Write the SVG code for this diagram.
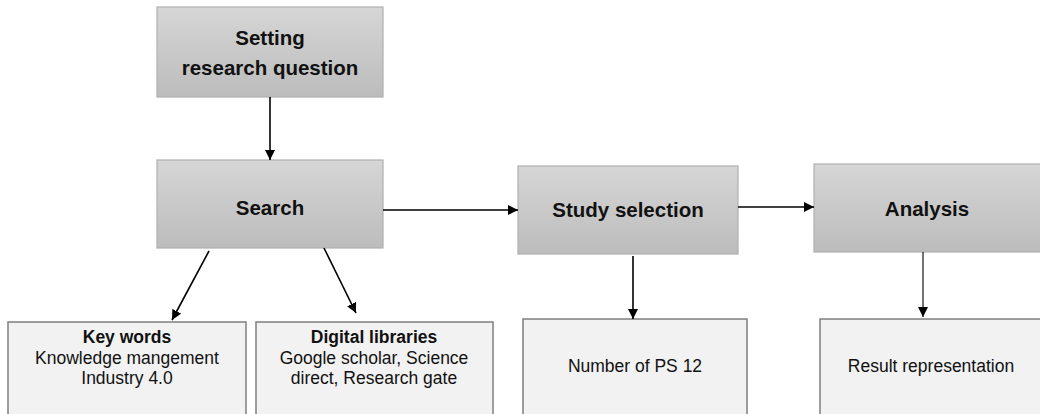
<svg xmlns="http://www.w3.org/2000/svg" width="1040" height="414" viewBox="0 0 1040 414">
  <defs>
    <linearGradient id="stepFill" x1="0" y1="0" x2="0" y2="1">
      <stop offset="0" stop-color="#d6d6d6"/>
      <stop offset="1" stop-color="#bcbcbc"/>
    </linearGradient>
    <marker id="arrow" viewBox="0 0 10 10" refX="10" refY="5" markerWidth="10" markerHeight="10" markerUnits="userSpaceOnUse" orient="auto">
      <path d="M0,0 L10,5 L0,10 z" fill="#000"/>
    </marker>
    <style>
      .step { fill: url(#stepFill); stroke: #b0b0b0; stroke-width: 1.2; }
      .detail { fill: #f2f2f2; stroke: #7f7f7f; stroke-width: 1.5; }
      .head { font-family: "Liberation Sans", Arial, sans-serif; font-weight: bold; font-size: 20.5px; fill: #111; text-anchor: middle; }
      .body { font-family: "Liberation Sans", Arial, sans-serif; font-size: 17.5px; fill: #111; text-anchor: middle; }
      .bold { font-weight: bold; }
      .link { stroke: #000; stroke-width: 1.6; fill: none; marker-end: url(#arrow); }
      .thin { stroke-width: 1.1; }
    </style>
  </defs>
  <rect width="1040" height="414" fill="#fff"/>

  <g id="setting-question">
    <rect class="step" x="157" y="7" width="226" height="90"/>
    <text class="head" x="270" y="45">Setting</text>
    <text class="head" x="270" y="75">research question</text>
  </g>

  <g id="search">
    <rect class="step" x="157" y="160" width="226" height="88"/>
    <text class="head" x="270" y="215">Search</text>
  </g>

  <g id="study-selection">
    <rect class="step" x="518" y="166" width="220" height="88"/>
    <text class="head" x="628" y="217">Study selection</text>
  </g>

  <g id="analysis">
    <rect class="step" x="814" y="164" width="232" height="88"/>
    <text class="head" x="927" y="216">Analysis</text>
  </g>

  <g id="key-words">
    <rect class="detail" x="8" y="322" width="238" height="100"/>
    <text class="body bold" x="127" y="343">Key words</text>
    <text class="body" x="127" y="364">Knowledge mangement</text>
    <text class="body" x="127" y="384">Industry 4.0</text>
  </g>

  <g id="digital-libraries">
    <rect class="detail" x="256" y="322" width="237" height="100"/>
    <text class="body bold" x="374" y="343">Digital libraries</text>
    <text class="body" x="374" y="364">Google scholar, Science</text>
    <text class="body" x="374" y="384">direct, Research gate</text>
  </g>

  <g id="number-of-ps">
    <rect class="detail" x="523" y="319" width="224" height="100"/>
    <text class="body" x="635" y="372">Number of PS 12</text>
  </g>

  <g id="result-representation">
    <rect class="detail" x="820" y="319" width="230" height="100"/>
    <text class="body" x="931" y="372">Result representation</text>
  </g>

  <g id="connectors">
    <line class="link" x1="270" y1="97" x2="270" y2="160"/>
    <line class="link" x1="383" y1="210" x2="518" y2="210"/>
    <line class="link" x1="738" y1="207" x2="814" y2="207"/>
    <line class="link" x1="209" y1="251" x2="172" y2="320"/>
    <line class="link" x1="324" y1="248" x2="356" y2="313"/>
    <line class="link" x1="633" y1="256" x2="633" y2="319"/>
    <line class="link thin" x1="923" y1="252" x2="923" y2="317"/>
  </g>
</svg>
